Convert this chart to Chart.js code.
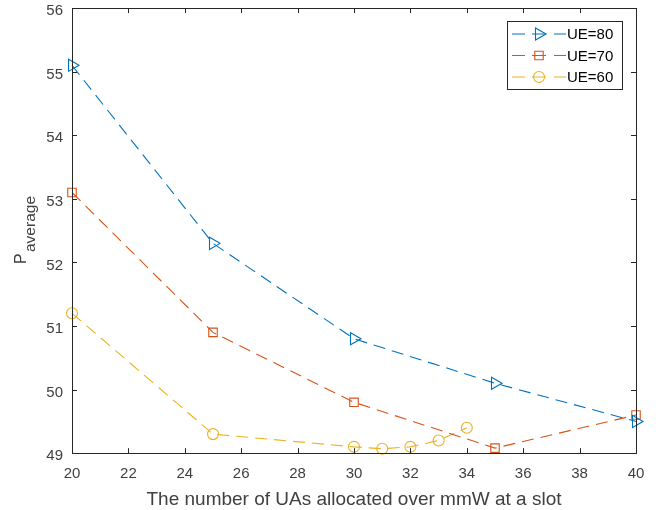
<!DOCTYPE html>
<html>
<head>
<meta charset="utf-8">
<script src="https://cdn.jsdelivr.net/npm/chart.js@4.4.1/dist/chart.umd.min.js"></script>
<style>
  html,body{margin:0;padding:0;background:#fff;}
  #wrap{width:664px;height:510px;}
</style>
</head>
<body>
<div id="wrap"><canvas id="chart"></canvas></div>
<script>
// data
const ue80_x = [20, 25, 30, 35, 40]
const ue80_y = [55.1, 52.3, 50.8, 50.1, 49.5]
const ue70_x = [20, 25, 30, 35, 40]
const ue70_y = [53.1, 50.9, 49.8, 49.08, 49.6]
const ue60_x = [20, 25, 30, 31, 32, 33, 34]
const ue60_y = [51.2, 49.3, 49.1, 49.07, 49.1, 49.2, 49.4]
const seriesNames = ['UE=80', 'UE=70', 'UE=60']
const xTicks = [20, 22, 24, 26, 28, 30, 32, 34, 36, 38, 40]
const yTicks = [49, 50, 51, 52, 53, 54, 55, 56]

const blue = '#0072BD', red = '#D95319', yellow = '#EDB120'
const axisCol = '#262626', textCol = '#404040'
const FONT = '"Liberation Sans", Arial, sans-serif'

function pts(xs, ys){ return xs.map((x,i)=>({x:x, y:ys[i]})) }

function ds(label, data, color, style, rot, r){
    return {
        label: label,
        data: data,
        borderColor: color,
        borderWidth: 1.1,
        borderDash: [12, 7],
        pointStyle: style,
        pointRotation: rot,
        pointRadius: r,
        pointHoverRadius: r,
        pointBorderColor: color,
        pointBackgroundColor: 'rgba(0,0,0,0)',
        pointBorderWidth: 1.1,
        fill: false,
        tension: 0,
        clip: false
    }
}

// box, inward ticks, y tick labels, y title with subscript, legend
const decor = {
    id: 'decor',
    afterDraw(chart){
        const c = chart.ctx
        const a = chart.chartArea
        const xs = chart.scales.x, ys = chart.scales.y
        c.save()
        c.strokeStyle = axisCol
        c.lineWidth = 1
        c.setLineDash([])
        c.strokeRect(Math.round(a.left) + 0.5, Math.round(a.top) + 0.5,
                     Math.round(a.right - a.left), Math.round(a.bottom - a.top))
        c.beginPath()
        xTicks.forEach(v=>{
            const px = Math.round(xs.getPixelForValue(v)) + 0.5
            c.moveTo(px, a.bottom); c.lineTo(px, a.bottom - 5)
            c.moveTo(px, a.top); c.lineTo(px, a.top + 5)
        })
        yTicks.forEach(v=>{
            const py = Math.round(ys.getPixelForValue(v)) + 0.5
            c.moveTo(a.left, py); c.lineTo(a.left + 5, py)
            c.moveTo(a.right, py); c.lineTo(a.right - 5, py)
        })
        c.stroke()

        // y tick labels
        c.fillStyle = textCol
        c.font = '15px ' + FONT
        c.textAlign = 'right'
        c.textBaseline = 'middle'
        yTicks.forEach(v=>{
            c.fillText(String(v), a.left - 9, ys.getPixelForValue(v) + 3)
        })

        // y title: P with subscript "average"
        c.translate(26, 264)
        c.rotate(-Math.PI / 2)
        c.textBaseline = 'alphabetic'
        c.textAlign = 'left'
        c.font = '16px ' + FONT
        c.fillText('P', 0, 0)
        c.font = '15.5px ' + FONT
        c.fillText('average', 12, 9)
        c.setTransform(1,0,0,1,0,0)
        c.restore()

        // legend
        c.save()
        const lx = 507, ly = 21, lw = 115, lh = 68
        c.fillStyle = '#fff'
        c.fillRect(lx, ly, lw, lh)
        c.strokeStyle = axisCol
        c.lineWidth = 1
        c.strokeRect(lx + 0.5, ly + 0.5, lw, lh)
        const cols = [blue, red, yellow]
        chart.data.datasets.forEach((d, i)=>{
            const cy = ly + 13 + i * 21.5
            c.strokeStyle = cols[i]
            c.fillStyle = 'rgba(0,0,0,0)'
            c.lineWidth = 1.1
            c.beginPath()
            c.moveTo(512, cy); c.lineTo(525, cy)
            c.moveTo(554, cy); c.lineTo(566, cy)
            c.moveTo(532, cy); c.lineTo(546, cy)
            c.stroke()
            Chart.helpers.drawPoint(c, {
                pointStyle: d.pointStyle, rotation: d.pointRotation,
                radius: d.pointRadius, borderWidth: 1.1
            }, 539, cy)
            c.fillStyle = '#000'
            c.font = '15px ' + FONT
            c.textBaseline = 'middle'
            c.textAlign = 'left'
            c.fillText(seriesNames[i], 567, cy + 1)
        })
        c.restore()
    }
}

const cfg = {
    type: 'line',
    data: {
        datasets: [
            ds(seriesNames[0], pts(ue80_x, ue80_y), blue, 'triangle', 90, 7),
            ds(seriesNames[1], pts(ue70_x, ue70_y), red, 'rect', 0, 6),
            ds(seriesNames[2], pts(ue60_x, ue60_y), yellow, 'circle', 0, 5.5)
        ]
    },
    options: {
        responsive: true,
        maintainAspectRatio: false,
        animation: false,
        layout: { padding: { left: 31, right: 28, top: 2, bottom: -1 } },
        plugins: {
            legend: { display: false },
            tooltip: { enabled: false }
        },
        scales: {
            x: {
                type: 'linear',
                min: 20, max: 40,
                afterBuildTicks: s => { s.ticks = xTicks.map(v=>({value:v})) },
                grid: { display: false },
                border: { display: false },
                ticks: { color: textCol, font: { family: FONT, size: 15 }, padding: 4 },
                title: {
                    display: true,
                    text: 'The number of UAs allocated over mmW at a slot',
                    color: textCol,
                    font: { family: FONT, size: 19 },
                    padding: { top: 1, bottom: 0 }
                }
            },
            y: {
                type: 'linear',
                min: 49, max: 56,
                afterBuildTicks: s => { s.ticks = yTicks.map(v=>({value:v})) },
                afterFit: s => { s.width = 41 },
                grid: { display: false },
                border: { display: false },
                ticks: { display: false }
            }
        }
    },
    plugins: [decor]
}

new Chart(document.getElementById('chart'), cfg)
</script>
</body>
</html>
